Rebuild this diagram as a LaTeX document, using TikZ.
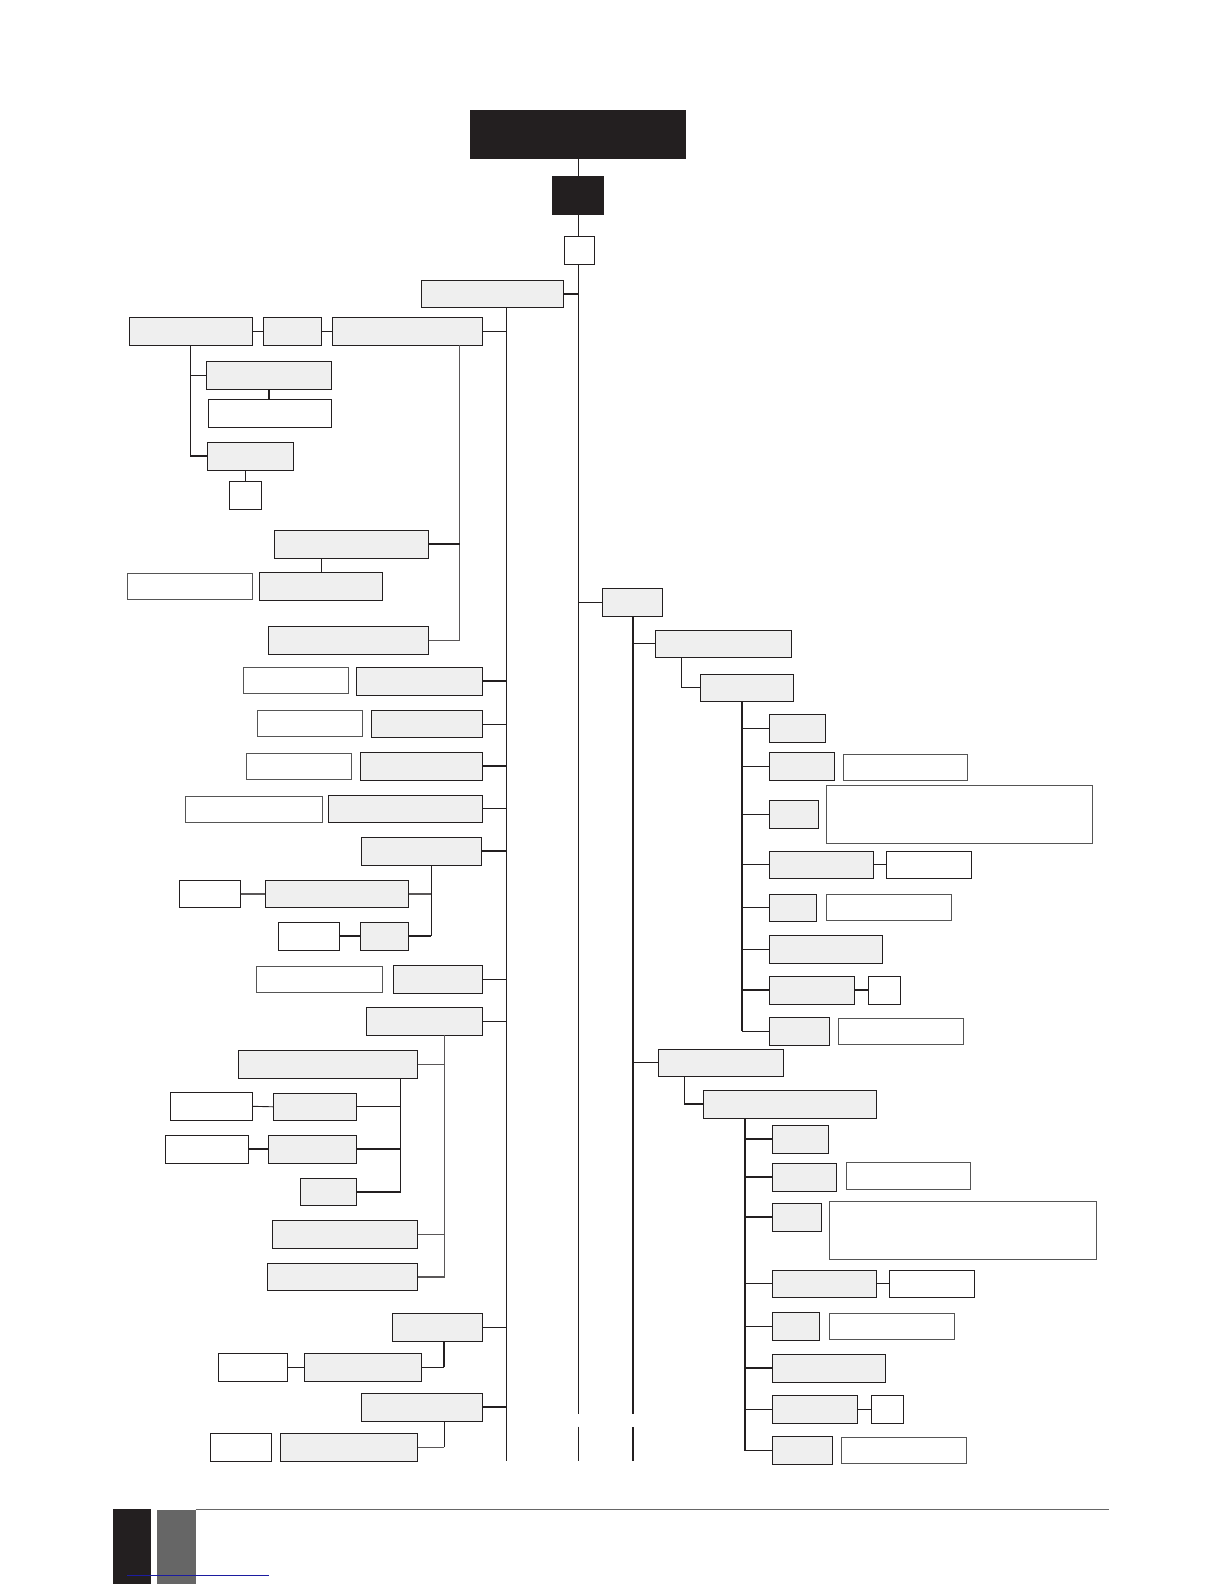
\documentclass[tikz,border=0pt]{standalone}
\usetikzlibrary{calc}
\definecolor{ink}{HTML}{231F20}
\definecolor{boxgray}{HTML}{EFEFEF}
\definecolor{edgegray}{HTML}{555555}
\definecolor{midgray}{HTML}{666666}
\definecolor{linkblue}{HTML}{1C1CA0}
\newcommand\bx[6]{\node[#1,minimum width={(#4-#2)*1pt},minimum height={(#5-#3)*1pt}] (#6) at ({(#2+#4)/2},{(#3+#5)/2}) {};}
\tikzset{
  base/.style={inner sep=0pt,outer sep=0pt},
  gbox/.style={base,draw=ink,fill=boxgray,line width=0.9pt},
  kbox/.style={base,draw=ink,fill=ink,line width=0.9pt},
  wbox/.style={base,draw=ink,fill=white,line width=0.9pt},
  lbox/.style={base,draw=edgegray,fill=white,line width=0.8pt},
  thn/.style={draw=ink,line width=0.9pt},
  thk/.style={draw=ink,line width=1.8pt},
  gl/.style={draw=ink!75!white,line width=1.4pt},
}
\begin{document}
\begin{tikzpicture}[x=1pt,y=-1pt]
\useasboundingbox (0,0) rectangle (1224,1584);
% ---- top ----
\bx{kbox}{470.5}{110}{685.5}{158}{T0}
\bx{kbox}{552.5}{176}{603.5}{214}{T1}
\bx{wbox}{564.3}{236}{594.7}{264.3}{T2}
% ---- left branch ----
\bx{gbox}{421.3}{280.3}{563.7}{307.3}{A1}
\bx{gbox}{129.3}{317.3}{252.7}{345.3}{B1}
\bx{gbox}{263.3}{317.3}{321.7}{345.3}{B2}
\bx{gbox}{332.3}{317.3}{482.3}{345.3}{B3}
\bx{gbox}{206.3}{361.3}{331.7}{389.3}{C1}
\bx{wbox}{208.3}{399.3}{331.7}{427.3}{C2}
\bx{gbox}{207.3}{442.3}{293.7}{470.3}{C3}
\bx{wbox}{229.3}{481.3}{261.7}{509.3}{C4}
\bx{gbox}{274.3}{530.3}{428.7}{558.3}{D1}
\bx{gbox}{259.3}{572.3}{382.7}{600.3}{D2}
\bx{lbox}{127.3}{573.3}{252.7}{599.3}{D3}
\bx{gbox}{268.3}{626.3}{428.7}{654.3}{D4}
\bx{gbox}{356.3}{667.3}{482.3}{695.3}{E1}
\bx{lbox}{243.3}{667.3}{348.7}{693.3}{E1w}
\bx{gbox}{371.3}{710.3}{482.3}{737.7}{E2}
\bx{lbox}{257.3}{710.3}{362.7}{736.3}{E2w}
\bx{gbox}{360.3}{752.3}{482.3}{780.3}{E3}
\bx{lbox}{246.3}{753.3}{351.3}{779.3}{E3w}
\bx{gbox}{328.3}{795.3}{482.3}{822.3}{E4}
\bx{lbox}{185.3}{796}{322.3}{822.3}{E4w}
\bx{gbox}{361.3}{837.3}{481.7}{865.3}{E5}
\bx{gbox}{265.3}{880.3}{408.7}{907.3}{F1}
\bx{wbox}{179.3}{880.3}{240.7}{907.3}{F1w}
\bx{gbox}{360.3}{922.3}{408.7}{950.3}{F2}
\bx{wbox}{278.3}{922.3}{339.7}{950.3}{F2w}
\bx{gbox}{393.3}{965.3}{482.7}{993.7}{G1}
\bx{lbox}{256.3}{966.3}{382.7}{992.3}{G1w}
\bx{gbox}{366.3}{1007.3}{482.7}{1035.3}{H1}
\bx{gbox}{238.3}{1050.3}{417.7}{1078.3}{I1}
\bx{gbox}{273.3}{1093.3}{356.7}{1120.3}{J1}
\bx{wbox}{170.3}{1092.3}{252.7}{1120.3}{J1w}
\bx{gbox}{268.3}{1135.3}{356.7}{1163.3}{J2}
\bx{wbox}{165.3}{1135.3}{248.7}{1163.3}{J2w}
\bx{gbox}{300.3}{1178.3}{356.7}{1205.3}{J3}
\bx{gbox}{272.3}{1220.3}{417.7}{1248.3}{KA}
\bx{gbox}{267.3}{1263.3}{417.7}{1290.3}{KB}
\bx{gbox}{392.3}{1313.3}{482.7}{1341.3}{L1}
\bx{gbox}{304.3}{1353.3}{421.7}{1381.3}{L2}
\bx{wbox}{218.3}{1353.3}{287.7}{1381.3}{L2w}
\bx{gbox}{361.3}{1393.3}{482.7}{1421.3}{M1}
\bx{gbox}{280.3}{1433.3}{417.7}{1461.3}{M2}
\bx{wbox}{210.3}{1433.3}{271.7}{1461.3}{M2w}
% ---- right branch ----
\bx{gbox}{602.5}{588.3}{662.5}{616.3}{N1}
\bx{gbox}{655.4}{630.3}{791.8}{657.3}{O1}
\bx{gbox}{700.4}{674.3}{793.6}{701.3}{O2}
\bx{gbox}{769.3}{714.3}{825.7}{742.3}{P1}
\bx{gbox}{769.3}{752.3}{834.3}{780.3}{P2}
\bx{lbox}{843.2}{754.3}{967.5}{780.3}{P2w}
\bx{gbox}{769.3}{800.3}{818.2}{828.3}{P3}
\bx{lbox}{826.4}{785.3}{1092.5}{843.3}{P3w}
\bx{gbox}{769.3}{851.3}{873.2}{878.3}{P4}
\bx{wbox}{886.4}{851.3}{971.4}{878.3}{P4w}
\bx{gbox}{769.3}{894.3}{816.4}{921.3}{P5}
\bx{lbox}{826.4}{894.3}{951.4}{920.3}{P5w}
\bx{gbox}{769.3}{935.3}{882.5}{963.3}{P6}
\bx{gbox}{769.3}{976.3}{854.3}{1004.3}{P7}
\bx{wbox}{868.2}{976.3}{900.4}{1004.3}{P7w}
\bx{gbox}{769.3}{1017.3}{829.3}{1045}{P8}
\bx{lbox}{838.2}{1018.3}{963.2}{1044}{P8w}
\bx{gbox}{658.3}{1049.3}{783.7}{1076.3}{Q1}
\bx{gbox}{703.3}{1090.3}{876.7}{1118.3}{Q2}
\bx{gbox}{772.3}{1125.3}{828.7}{1153.3}{R1}
\bx{gbox}{772.3}{1163.3}{836.7}{1191.3}{R2}
\bx{lbox}{846.3}{1162.3}{970.3}{1189.3}{R2w}
\bx{gbox}{772.3}{1203.3}{821.3}{1231.3}{R3}
\bx{lbox}{829.3}{1201.3}{1096.7}{1259.3}{R3w}
\bx{gbox}{772.3}{1270.3}{876.3}{1297.3}{R4}
\bx{wbox}{889.3}{1270.3}{974.3}{1297.3}{R4w}
\bx{gbox}{772.3}{1312.3}{819.3}{1340.3}{R5}
\bx{lbox}{829.3}{1313.3}{954.3}{1339.3}{R5w}
\bx{gbox}{772.3}{1354.3}{885.3}{1382}{R6}
\bx{gbox}{772.3}{1395.3}{857.3}{1423.3}{R7}
\bx{wbox}{871.3}{1395.3}{903.3}{1423.3}{R7w}
\bx{gbox}{772.3}{1436.3}{832.6}{1464.7}{R8}
\bx{lbox}{841}{1437.3}{966.7}{1463.3}{R8w}
% ---- line coordinates ----
\coordinate (xM) at (578.3,1460.5);
\coordinate (gM1) at (578.3,1414);
\coordinate (gM2) at (578.3,1426.7);
\coordinate (xL) at (506.5,1460.5);
\coordinate (xN) at (632.8,1460.5);
\coordinate (gN1) at (632.8,1413.5);
\coordinate (gN2) at (632.8,1427);
\coordinate (xB1) at (190.7,0);
\coordinate (xB3) at (459.7,0);
\coordinate (xE5) at (431.3,0);
\coordinate (xH1) at (444.5,0);
\coordinate (xI1) at (400.7,0);
\coordinate (xL1) at (444,0);
\coordinate (xM1) at (444.3,0);
\coordinate (xO1) at (681.4,0);
\coordinate (xO2) at (741.8,0);
\coordinate (xQ1) at (684.3,0);
\coordinate (xQ2) at (745,0);
% ---- main trunk ----
\draw[thn] (T0.south -| xM) -- (T1.north -| xM);
\draw[thn] (T1.south -| xM) -- (T2.north -| xM);
\draw[thn] (T2.south -| xM) -- (gM1);
\draw[thn] (gM2) -- (xM);
\draw[thk] (A1.east) -- (A1.east -| xM);
\draw[thn] (N1.west) -- (N1.west -| xM);
% ---- left trunk ----
\draw[thn] (A1.south -| xL) -- (xL);
\draw[thn] (B3.east) -- (B3.east -| xL);
\draw[thk] (E1.east) -- (E1.east -| xL);
\draw[thn] (E2.east) -- (E2.east -| xL);
\draw[thk] (E3.east) -- (E3.east -| xL);
\draw[thn] (E4.east) -- (E4.east -| xL);
\draw[thk] (E5.east) -- (E5.east -| xL);
\draw[thn] (G1.east) -- (G1.east -| xL);
\draw[thn] (H1.east) -- (H1.east -| xL);
\draw[thn] (L1.east) -- (L1.east -| xL);
\draw[thk] (M1.east) -- (M1.east -| xL);
% B row
\draw[thn] (B1.east) -- (B2.west);
\draw[thn] (B2.east) -- (B3.west);
\draw[thn] (B1.south -| xB1) |- (C3.west);
\draw[thk] (C3.west) -- (C3.west -| xB1);
\draw[thn] (C1.west) -- (C1.west -| xB1);
\draw[thk] (C1.south) -- (C1.south |- C2.north);
\draw[thn] (C4.north) -- (C4.north |- C3.south);
\draw[gl] (B3.south -| xB3) |- (D4.east);
\draw[thk] (D1.east) -- (D1.east -| xB3);
\draw[thn] (D2.north) -- (D2.north |- D1.south);
% E5 children
\draw[thn] (E5.south -| xE5) -- (F2.east -| xE5);
\draw[gl] (F1.east) -- (F1.east -| xE5);
\draw[gl] (F1w.east) -- (F1.west);
\draw[thk] (F2.east) -- (F2.east -| xE5);
\draw[thk] (F2w.east) -- (F2.west);
% H1 children
\draw[gl] (H1.south -| xH1) |- (KB.east);
\draw[gl] (I1.east) -- (I1.east -| xH1);
\draw[gl] (KA.east) -- (KA.east -| xH1);
\draw[thn] (I1.south -| xI1) -- (J3.east -| xI1);
\draw[thn] (J1.east) -- (J1.east -| xI1);
\draw[thn] (J1w.east) -- (J1.west);
\draw[thk] (J2.east) -- (J2.east -| xI1);
\draw[thk] (J2w.east) -- (J2.west);
\draw[thk] (J3.east) -- (J3.east -| xI1);
% L1, M1 children
\draw[thk] (L1.south -| xL1) -- (L2.east -| xL1);
\draw[thn] (L2.east) -- (L2.east -| xL1);
\draw[thn] (L2w.east) -- (L2.west);
\draw[thn] (M1.south -| xM1) -- (M2.east -| xM1);
\draw[gl] (M2.east) -- (M2.east -| xM1);
% ---- right branch lines ----
\draw[thk] (N1.south -| xN) -- (gN1);
\draw[thk] (gN2) -- (xN);
\draw[thn] (O1.west) -- (O1.west -| xN);
\draw[thn] (Q1.west) -- (Q1.west -| xN);
\draw[thn] (O1.south -| xO1) |- (O2.west);
\draw[thk] (O2.south -| xO2) -- (P8.west -| xO2);
\foreach \n in {P1,P2,P3,P4,P5,P6,P8} {\draw[thn] (\n.west) -- (\n.west -| xO2);}
\draw[thk] (P7.west) -- (P7.west -| xO2);
\draw[thn] (P4.east) -- (P4w.west);
\draw[thk] (P7.east) -- (P7w.west);
\draw[thn] (Q1.south -| xQ1) -- (Q2.west -| xQ1);
\draw[thk] (Q2.west) -- (Q2.west -| xQ1);
\draw[thk] (Q2.south -| xQ2) -- (R8.west -| xQ2);
\foreach \n in {R1,R2,R3,R6} {\draw[thk] (\n.west) -- (\n.west -| xQ2);}
\foreach \n in {R4,R5,R7,R8} {\draw[thn] (\n.west) -- (\n.west -| xQ2);}
\draw[thn] (R4.east) -- (R4w.west);
\draw[thn] (R7.east) -- (R7w.west);
% ---- footer ----
\fill[ink] (113,1509) rectangle (150.5,1584);
\fill[midgray] (157,1510) rectangle (195.5,1584);
\draw[draw=midgray,line width=1.2pt] (195.5,1509.5) -- (1109,1509.5);
\draw[draw=linkblue,line width=1pt] (127,1575) -- (269,1575);
\end{tikzpicture}
\end{document}
